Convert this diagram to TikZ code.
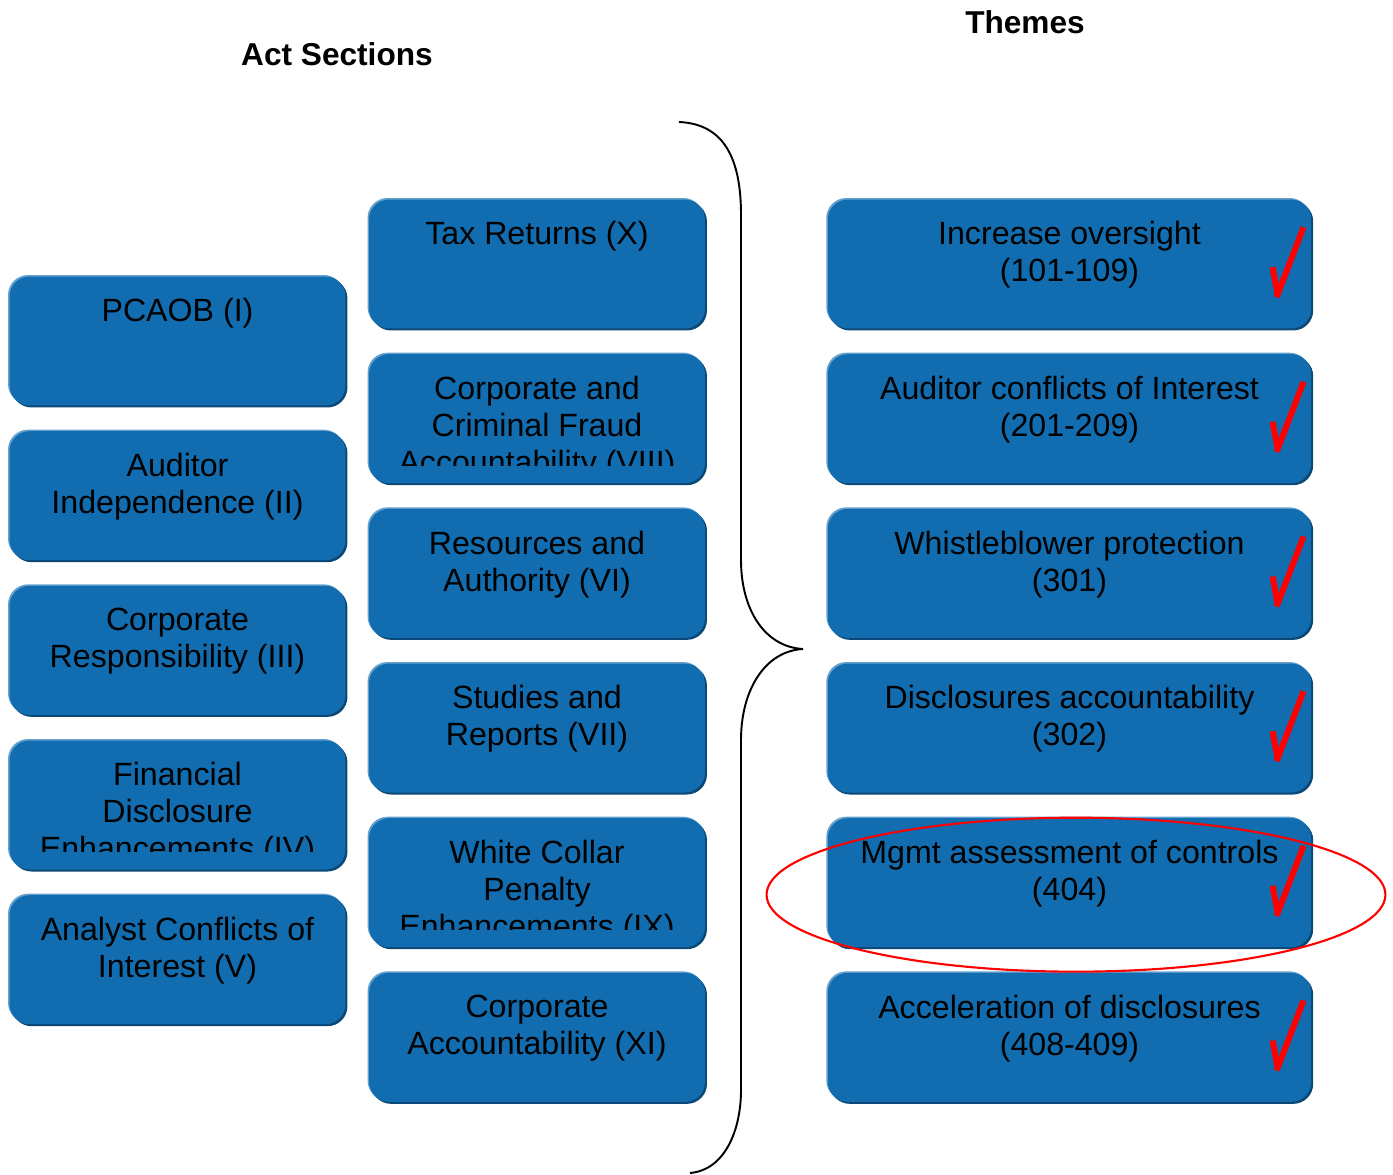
\documentclass[tikz,border=0pt]{standalone}
\usepackage{fontspec}
\setmainfont{Liberation Sans}
\usetikzlibrary{positioning}

\definecolor{boxblue}{RGB}{17,109,176}
\definecolor{boxedge}{RGB}{11,72,118}
\definecolor{boxlight}{RGB}{100,160,206}
\definecolor{tickred}{RGB}{255,0,0}

% text of a box, cut off above the bottom edge
\newcommand\boxlabel[2]{%
  \begin{scope}
    \clip (#1.north west) rectangle ([yshift=0.36cm]#1.south east);
    \node[boxtext] at ([yshift=-0.44cm]#1.north) {#2};
  \end{scope}}

\begin{document}
\begin{tikzpicture}[x=0.02cm,y=-0.02cm,node distance=0.5cm,
    actbox/.style={fill=boxblue,rounded corners=0.4cm,inner sep=0,
      minimum width=6.72cm,minimum height=2.58cm,
      preaction={fill=boxlight,transform canvas={shift={(-0.03cm,0.03cm)}}},
      preaction={fill=boxedge,transform canvas={shift={(0.04cm,-0.04cm)}}}},
    themebox/.style={actbox,minimum width=9.67cm},
    boxtext/.style={anchor=north,align=center,inner sep=0,
      font=\fontsize{18.3pt}{21pt}\selectfont},
    heading/.style={font=\fontsize{18pt}{21pt}\selectfont\bfseries},
    tick/.style={draw=tickred,line width=3.4pt}]
    \useasboundingbox (0,0) rectangle (1393,1175);

    \node[heading] (actsec) at (337,54) {Act Sections};
    \node[heading] (themes) at (1025,22) {Themes};

    % act sections, left column
    \node[actbox] (pcaob) at (177.5,341) {};
    \node[actbox,below=of pcaob] (audind) {};
    \node[actbox,below=of audind] (corpresp) {};
    \node[actbox,below=of corpresp] (findisc) {};
    \node[actbox,below=of findisc] (analyst) {};

    % act sections, right column
    \node[actbox] (taxret) at (537,264) {};
    \node[actbox,below=of taxret] (fraud) {};
    \node[actbox,below=of fraud] (resauth) {};
    \node[actbox,below=of resauth] (studies) {};
    \node[actbox,below=of studies] (whitecol) {};
    \node[actbox,below=of whitecol] (corpacc) {};

    % themes
    \node[themebox] (oversight) at (1069.5,264) {};
    \node[themebox,below=of oversight] (conflicts) {};
    \node[themebox,below=of conflicts] (whistle) {};
    \node[themebox,below=of whistle] (disclos) {};
    \node[themebox,below=of disclos] (mgmt) {};
    \node[themebox,below=of mgmt] (accel) {};

    \boxlabel{pcaob}{PCAOB (I)}
    \boxlabel{audind}{Auditor\\Independence (II)}
    \boxlabel{corpresp}{Corporate\\Responsibility (III)}
    \boxlabel{findisc}{Financial\\Disclosure\\Enhancements (IV)}
    \boxlabel{analyst}{Analyst Conflicts of\\Interest (V)}
    \boxlabel{taxret}{Tax Returns (X)}
    \boxlabel{fraud}{Corporate and\\Criminal Fraud\\Accountability (VIII)}
    \boxlabel{resauth}{Resources and\\Authority (VI)}
    \boxlabel{studies}{Studies and\\Reports (VII)}
    \boxlabel{whitecol}{White Collar\\Penalty\\Enhancements (IX)}
    \boxlabel{corpacc}{Corporate\\Accountability (XI)}
    \boxlabel{oversight}{Increase oversight\\(101-109)}
    \boxlabel{conflicts}{Auditor conflicts of Interest\\(201-209)}
    \boxlabel{whistle}{Whistleblower protection\\(301)}
    \boxlabel{disclos}{Disclosures accountability\\(302)}
    \boxlabel{mgmt}{Mgmt assessment of controls\\(404)}
    \boxlabel{accel}{Acceleration of disclosures\\(408-409)}

    \foreach \b in {oversight,conflicts,whistle,disclos,mgmt,accel}{
      \draw[tick] ([shift={(-0.16cm,-0.56cm)}]\b.north east)
        -- ([shift={(-0.7cm,-1.96cm)}]\b.north east);
      \draw[tick] ([shift={(-0.78cm,-1.36cm)}]\b.north east)
        -- ([shift={(-0.68cm,-1.9cm)}]\b.north east);
    }

    % brace
    \draw[line width=1.1pt] (679,122) .. controls (725,124) and (741,160) .. (741,215)
      -- (741,560) .. controls (741,610) and (765,647) .. (803,649)
      .. controls (765,651) and (741,690) .. (741,740)
      -- (741,1090) .. controls (741,1130) and (725,1170) .. (690,1173);

    \draw[tickred,line width=1.2pt] ([shift={(0.13cm,-0.24cm)}]mgmt.center)
      ellipse [x radius=6.19cm,y radius=1.54cm];
  \end{tikzpicture}
\end{document}
